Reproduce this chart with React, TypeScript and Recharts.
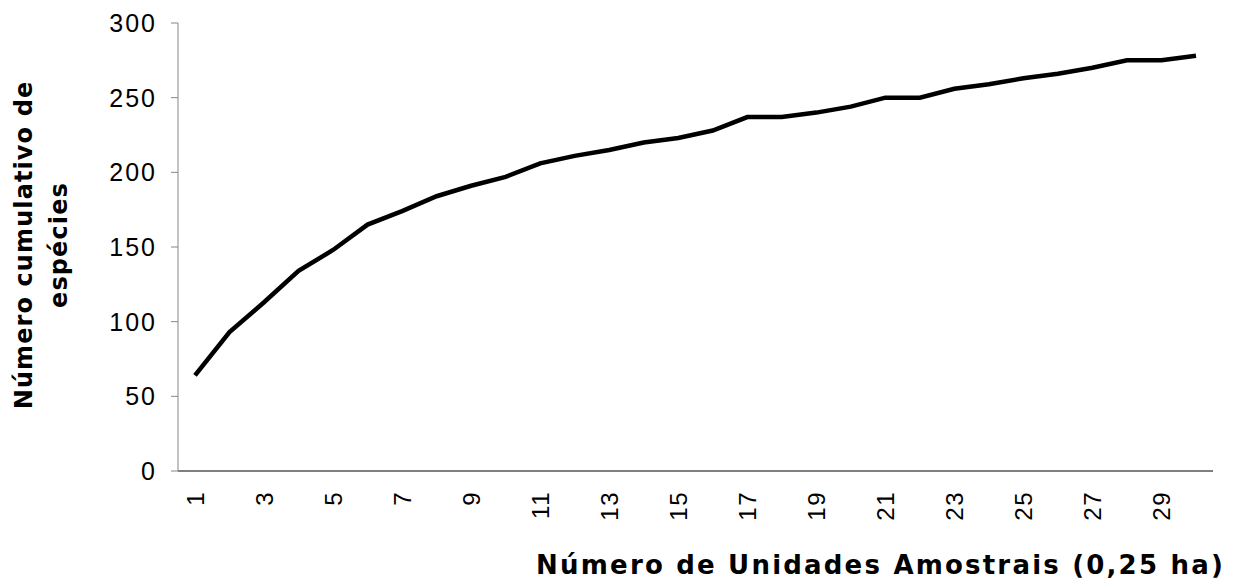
import React from "react";
import { LineChart, Line, XAxis, YAxis, Label } from "recharts";

const units = [
  "1", "2", "3", "4", "5", "6", "7", "8", "9", "10",
  "11", "12", "13", "14", "15", "16", "17", "18", "19", "20",
  "21", "22", "23", "24", "25", "26", "27", "28", "29", "30",
];

const species = [
  64, 93, 113, 134, 148, 165, 174, 184, 191, 197,
  206, 211, 215, 220, 223, 228, 237, 237, 240, 244,
  250, 250, 256, 259, 263, 266, 270, 275, 275, 278,
];

const yTicks = [0, 50, 100, 150, 200, 250, 300];

const data = units.map((u, i) => ({ unit: u, count: species[i] }));

const FONT = "'Liberation Sans', Arial, sans-serif";
const TITLE_FONT = "'DejaVu Sans', Verdana, sans-serif";

function XTick(props: any) {
  const { x, y, payload } = props;
  return (
    <g transform={`translate(${x},${y})`}>
      <text
        transform="rotate(-90)"
        textAnchor="end"
        dy="0.36em"
        x={-12}
        fontFamily={FONT}
        fontSize={24}
        letterSpacing={1.5}
        fill="#000"
      >
        {payload.value}
      </text>
    </g>
  );
}

function YTitle(props: any) {
  const vb = props.viewBox;
  const cy = vb.y + vb.height / 2;
  return (
    <text
      transform={`translate(32,${cy - 2}) rotate(-90)`}
      textAnchor="middle"
      fontFamily={TITLE_FONT}
      fontWeight="bold"
      fontSize={24}
      letterSpacing={1.1}
      fill="#000"
    >
      <tspan x={0} dy={0}>Número cumulativo de</tspan>
      <tspan x={0} dy={35}>espécies</tspan>
    </text>
  );
}

export default function App() {
  return (
    <div style={{ position: "absolute", left: 0, top: 0, background: "#fff" }}>
      <LineChart
        width={1235}
        height={581}
        data={data}
        margin={{ top: 23, right: 22, bottom: 50, left: 0 }}
      >
        <XAxis
          dataKey="unit"
          interval={1}
          padding={{ left: 17, right: 17 }}
          tickLine={false}
          axisLine={{ stroke: "#000", strokeWidth: 1.2 }}
          tick={<XTick />}
          height={60}
        >
          <Label
            value="Número de Unidades Amostrais (0,25 ha)"
            position="insideBottomRight"
            offset={0}
            dy={43}
            dx={12}
            style={{
              fontFamily: TITLE_FONT,
              fontWeight: "bold",
              fontSize: 26,
              letterSpacing: 2.2,
              fill: "#000",
            }}
          />
        </XAxis>
        <YAxis
          width={178}
          domain={[0, 300]}
          ticks={yTicks}
          interval={0}
          tickSize={7}
          tickMargin={14}
          axisLine={{ stroke: "#868686" }}
          tickLine={{ stroke: "#868686" }}
          tick={{
            fontFamily: FONT,
            fontSize: 25,
            letterSpacing: 2,
            fill: "#000",
          }}
        >
          <Label content={<YTitle />} />
        </YAxis>
        <Line
          type="linear"
          dataKey="count"
          stroke="#000"
          strokeWidth={4.5}
          dot={false}
          isAnimationActive={false}
        />
      </LineChart>
    </div>
  );
}
